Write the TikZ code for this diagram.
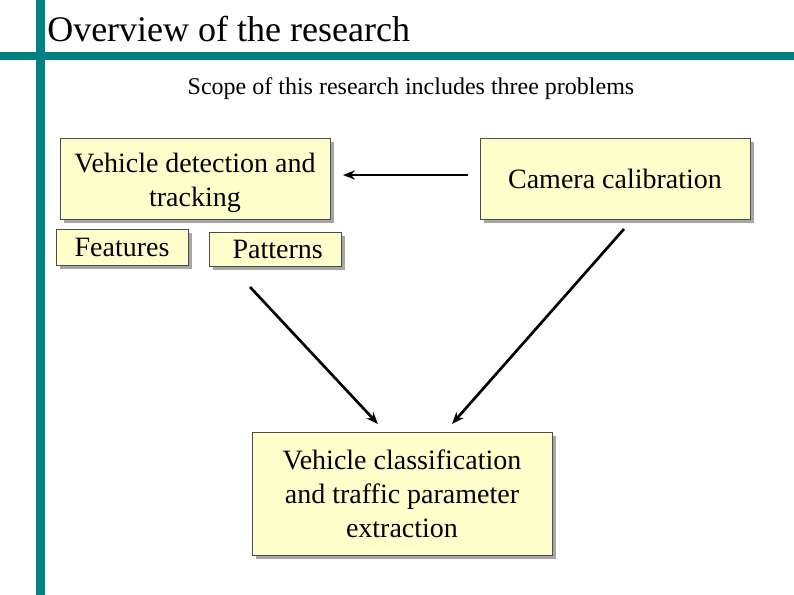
\documentclass[tikz,border=0pt]{standalone}
\usepackage{fontspec}
\setmainfont{Liberation Serif}
\usetikzlibrary{arrows.meta}
\definecolor{teal1}{RGB}{0,128,128}
\definecolor{boxy}{RGB}{255,255,204}
\begin{document}
\begin{tikzpicture}[x=0.75pt,y=-0.75pt,
  box/.style={draw=black!70,fill=boxy,line width=0.6pt},
  lbl/.style={align=center,inner sep=0pt,font=\fontsize{21}{25.5}\selectfont},
  arr/.style={-{Stealth[length=9pt,width=7pt]},line width=2pt}]
\useasboundingbox (0,0) rectangle (794,595);
\fill[white] (0,0) rectangle (794,595);
\fill[teal1] (36,0) rectangle (45,595);
\fill[teal1] (0,52) rectangle (794,60);
\node[anchor=base west,inner sep=0pt,font=\fontsize{27}{30}\selectfont] (title) at (47,42) {Overview of the research};
\node[inner sep=0pt,font=\fontsize{18}{20}\selectfont] (sub) at (411,89) {Scope of this research includes three problems};
\foreach \a/\b/\c/\d/\n in {60/138/330/219/vdt,56/229/188/265/feat,209/232/341/266/pat,480/138/750/219/cam,252/432/552/555/bot}{
  \fill[black!35] (\a+4,\b+4) rectangle (\c+4,\d+4);
  \coordinate (\n) at ({(\a+\c)/2},{(\b+\d)/2});
  \path[box] (\a,\b) rectangle (\c,\d);
}
\node[lbl] (t1) at ([yshift=-3pt]vdt) {Vehicle detection and\\tracking};
\node[lbl] (t2) at (feat) {Features};
\node[lbl] (t3) at ([xshift=2pt]pat) {Patterns};
\node[lbl] (t4) at (cam) {Camera calibration};
\node[lbl] (t5) at (bot) {Vehicle classification\\and traffic parameter\\extraction};
\coordinate (a1s) at (468,175); \coordinate (a1e) at (343,175);
\coordinate (a2s) at (250,287); \coordinate (a2e) at (378,424);
\coordinate (a3s) at (624,229); \coordinate (a3e) at (452,424);
\draw[arr] (a1s) -- (a1e);
\draw[arr] (a2s) -- (a2e);
\draw[arr] (a3s) -- (a3e);
\end{tikzpicture}
\end{document}
